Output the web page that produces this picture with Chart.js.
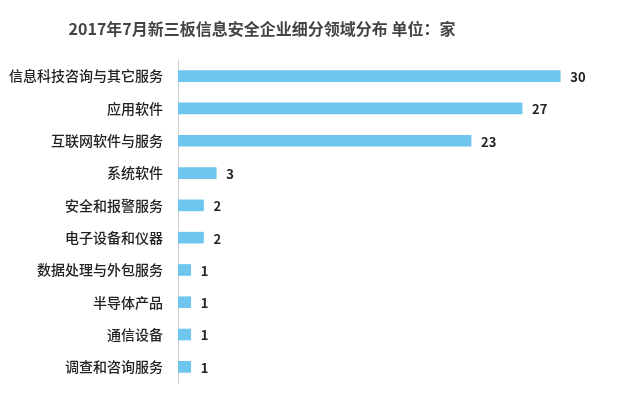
<!DOCTYPE html>
<html><head><meta charset="utf-8">
<script src="https://cdn.jsdelivr.net/npm/chart.js@4"></script>
<style>html,body{margin:0;padding:0;background:#fff}#wrap{width:640px;height:400px;position:relative}</style>
</head><body><div id="wrap"><canvas id="c" width="640" height="400"></canvas></div>
<script>
const titleText = "2017年7月新三板信息安全企业细分领域分布 单位：家";
const categories = ["信息科技咨询与其它服务","应用软件","互联网软件与服务","系统软件","安全和报警服务","电子设备和仪器","数据处理与外包服务","半导体产品","通信设备","调查和咨询服务"];
const values = [30,27,23,3,2,2,1,1,1,1];

const FONT = '"Noto Sans CJK SC","Noto Sans",sans-serif';

const extras = {
  id: 'extras',
  afterDatasetsDraw(chart) {
    const ctx = chart.ctx;
    const meta = chart.getDatasetMeta(0);
    ctx.save();
    ctx.fillStyle = '#222';
    ctx.font = 'bold 13px ' + FONT;
    ctx.textAlign = 'left';
    ctx.textBaseline = 'middle';
    meta.data.forEach((bar, i) => {
      ctx.fillText(String(values[i]), bar.x + 10, bar.y + 1);
    });
    ctx.fillStyle = '#444';
    ctx.font = 'bold 16px ' + FONT;
    ctx.textAlign = 'center';
    ctx.fillText(titleText, 262, 29);
    ctx.restore();
  }
};

new Chart(document.getElementById('c'), {
  type: 'bar',
  data: {
    labels: categories,
    datasets: [{
      data: values,
      backgroundColor: '#6EC6EE',
      barThickness: 11,
      borderWidth: 0
    }]
  },
  options: {
    indexAxis: 'y',
    responsive: false,
    animation: false,
    layout: { padding: { top: 60, bottom: 17, right: 16, left: 0 } },
    plugins: { legend: { display: false }, tooltip: { enabled: false }, title: { display: false } },
    scales: {
      x: { display: false, min: 0, max: 35 },
      y: {
        afterFit(scale) { scale.width = 178; scale.paddingTop = 0; scale.paddingBottom = 0; },
        grid: { display: false, drawTicks: false },
        border: { display: true, color: '#d0d0d0', width: 1 },
        ticks: { color: '#222', font: { family: FONT, size: 14, weight: '500' }, padding: 15 }
      }
    }
  },
  plugins: [extras]
});
</script></body></html>
